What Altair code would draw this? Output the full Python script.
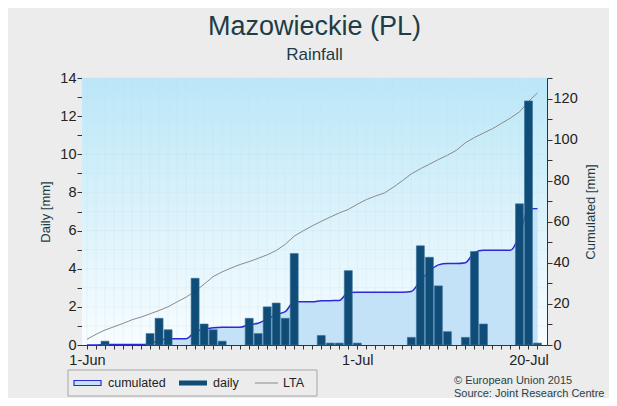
import altair as alt
import pandas as pd

# ---------------- data ----------------
dates = [d.strftime("%Y-%m-%d") for d in pd.date_range("2015-06-01", "2015-07-21", freq="D")]

daily = [0, 0, 0.2, 0, 0, 0, 0, 0.6, 1.4, 0.8,
         0, 0, 3.5, 1.1, 0.8, 0.2, 0, 0, 1.4, 0.6,
         2.0, 2.2, 1.4, 4.8, 0, 0, 0.5, 0.1, 0.1, 3.9,
         0.1, 0, 0, 0, 0, 0, 0.4, 5.2, 4.6, 3.1,
         0.7, 0, 0.4, 4.9, 1.1, 0, 0, 0, 7.4, 12.8,
         0.1]

lta = [2.8, 5.2, 7.3, 8.9, 10.5, 12.3, 13.6, 15.2, 16.8, 18.6,
       21.0, 23.3, 26.2, 29.6, 33.3, 35.6, 37.5, 39.2, 40.6, 42.2,
       43.9, 46.0, 49.0, 53.0, 55.6, 58.0, 60.2, 62.3, 64.3, 66.0,
       68.5, 70.8, 72.5, 74.0, 76.8, 80.0, 83.3, 85.8, 88.0, 90.3,
       92.4, 94.8, 98.5, 101.0, 103.2, 105.3, 107.9, 110.5, 113.5, 118.5,
       122.8]

x_labels = ["1-Jun", "1-Jul", "20-Jul"]
daily_ticks = list(range(0, 15))
cum_ticks = list(range(0, 131, 10))
grid_levels = list(range(1, 15))

df = pd.DataFrame({"date": dates, "daily": daily, "lta": lta})

# ---------------- layout ----------------
W, H = 465, 267
FONT = "Liberation Sans"
DARK = "#1d3c46"

def ts(s):
    return int(pd.Timestamp(s, tz="UTC").timestamp() * 1000)

x_domain = [ts("2015-06-01"), ts("2015-07-21 12:00")]
x_tick_vals = [ts(d) for d in dates]
lab_list = "[" + ",".join(f"'{l}'" for l in x_labels) + "]"
fmt = "utcFormat(datum.value, '%-d-%b')"


def xenc():
    return alt.X(
        "date:T",
        scale=alt.Scale(type="utc", domain=x_domain, nice=False),
        axis=alt.Axis(
            values=x_tick_vals,
            labelExpr=f"indexof({lab_list}, {fmt}) >= 0 ? {fmt} : ''",
            title=None, grid=False, labelFlush=False, labelOverlap=False,
            tickSize=4, tickColor="#333333", domainColor="#333333",
            labelFontSize=14.5, labelFont=FONT, labelColor="#222222", labelPadding=4,
        ),
    )


ycum_scale = alt.Scale(domain=[0, 130], nice=False)
right_axis = alt.Axis(
    orient="right", values=cum_ticks,
    labelExpr="datum.value % 20 == 0 ? datum.label : ''",
    title="Cumulated [mm]", titleFontSize=13, titleFont=FONT, titleFontWeight="normal",
    titleColor=DARK, titlePadding=7, titleAngle=270, titleBaseline="top",
    tickSize=5, tickColor="#333333", domainColor="#333333",
    labelFontSize=14.5, labelFont=FONT, labelColor="#222222", labelPadding=1, grid=False,
)
left_axis = alt.Axis(
    orient="left", values=daily_ticks,
    labelExpr="datum.value % 2 == 0 ? datum.label : ''",
    title="Daily [mm]", titleFontSize=13, titleFont=FONT, titleFontWeight="normal",
    titleColor=DARK, titlePadding=7, tickSize=5, tickColor="#333333", domainColor="#333333",
    labelFontSize=14.5, labelFont=FONT, labelColor="#222222", labelPadding=1, grid=False,
)

one = alt.Data(values=[{}])

# background gradient
bg = alt.Chart(one).mark_rect(
    fill={"gradient": "linear", "x1": 0, "x2": 0, "y1": 0, "y2": 1,
          "stops": [{"offset": 0, "color": "#bbe7f8"}, {"offset": 1, "color": "#f8fdff"}]}
).encode(x=alt.value(0), x2=alt.value(W), y=alt.value(0), y2=alt.value(H))

# grid
vgrid = alt.Chart(df).mark_rule(color="#c9dde8", strokeWidth=0.7, opacity=0.35).encode(
    x=xenc(), y=alt.value(0), y2=alt.value(H))
hgrid = alt.Chart(pd.DataFrame({"level": grid_levels})).mark_rule(
    color="#c9dde8", strokeWidth=0.7, opacity=0.35).encode(
    y=alt.Y("level:Q", scale=alt.Scale(domain=[0, 14], nice=False), axis=None),
    x=alt.value(0), x2=alt.value(W))

# cumulated + LTA
base_c = alt.Chart(df).transform_window(cum="sum(daily)", sort=[{"field": "date"}])
area = base_c.mark_area(color="#c4e2f7", interpolate="monotone").encode(
    x=xenc(), y=alt.Y("cum:Q", scale=ycum_scale, axis=right_axis))
cline = base_c.mark_line(color="#2a2ad8", strokeWidth=1.5, interpolate="monotone").encode(
    x=xenc(), y=alt.Y("cum:Q", scale=ycum_scale, axis=right_axis))
lline = alt.Chart(df).mark_line(color="#8a8a8a", strokeWidth=1).encode(
    x=xenc(), y=alt.Y("lta:Q", scale=ycum_scale, axis=right_axis))
cum_group = alt.layer(area, cline, lline)

# daily bars
bars = alt.Chart(df).transform_filter("datum.daily > 0").mark_bar(
    size=8, color="#0f4d78", stroke="#3a729b", strokeWidth=0.6).encode(
    x=xenc(),
    y=alt.Y("daily:Q", scale=alt.Scale(domain=[0, 14], nice=False), axis=left_axis))

# legend (drawn)
leg_box = alt.Chart(one).mark_rect(fill="#ececec", stroke="#a6a6a6", strokeWidth=1).encode(
    x=alt.value(-14), x2=alt.value(235), y=alt.value(292), y2=alt.value(318))
leg_cum = alt.Chart(one).mark_rect(fill="#c4e2f7", stroke="#2a2ad8", strokeWidth=1.2).encode(
    x=alt.value(-8), x2=alt.value(19), y=alt.value(302.5), y2=alt.value(307.5))
leg_daily = alt.Chart(one).mark_rect(fill="#0f4d78").encode(
    x=alt.value(97), x2=alt.value(125), y=alt.value(302.5), y2=alt.value(307.5))
leg_lta = alt.Chart(one).mark_rule(color="#8a8a8a", strokeWidth=1).encode(
    x=alt.value(173), x2=alt.value(196), y=alt.value(305))


def ltext(txt, x, y, size=12.5, color="#222222"):
    return alt.Chart(one).mark_text(
        text=txt, align="left", baseline="middle", font=FONT, fontSize=size, color=color
    ).encode(x=alt.value(x), y=alt.value(y))


texts = [
    ltext("cumulated", 26, 305),
    ltext("daily", 131, 305),
    ltext("LTA", 201, 305),
    ltext("© European Union 2015", 372, 303, 11, "#2a3f47"),
    ltext("Source: Joint Research Centre", 372, 316, 11, "#2a3f47"),
]

chart = alt.layer(
    bg, vgrid, hgrid, cum_group, bars, leg_box, leg_cum, leg_daily, leg_lta, *texts
).resolve_scale(y="independent").properties(
    width=W, height=H,
    autosize=alt.AutoSizeParams(type="none"),
    padding={"left": 74, "top": 70, "right": 62, "bottom": 53},
    background="#ececec",
    title=alt.TitleParams(
        "Mazowieckie (PL)", subtitle="Rainfall", anchor="middle",
        font=FONT, fontSize=27, fontWeight="normal", color=DARK,
        subtitleFont=FONT, subtitleFontSize=17, subtitleColor=DARK,
        offset=6, subtitlePadding=6,
    ),
).configure_view(stroke=None)

chart.save("out.html", embed_options={"renderer": "svg", "actions": False})
